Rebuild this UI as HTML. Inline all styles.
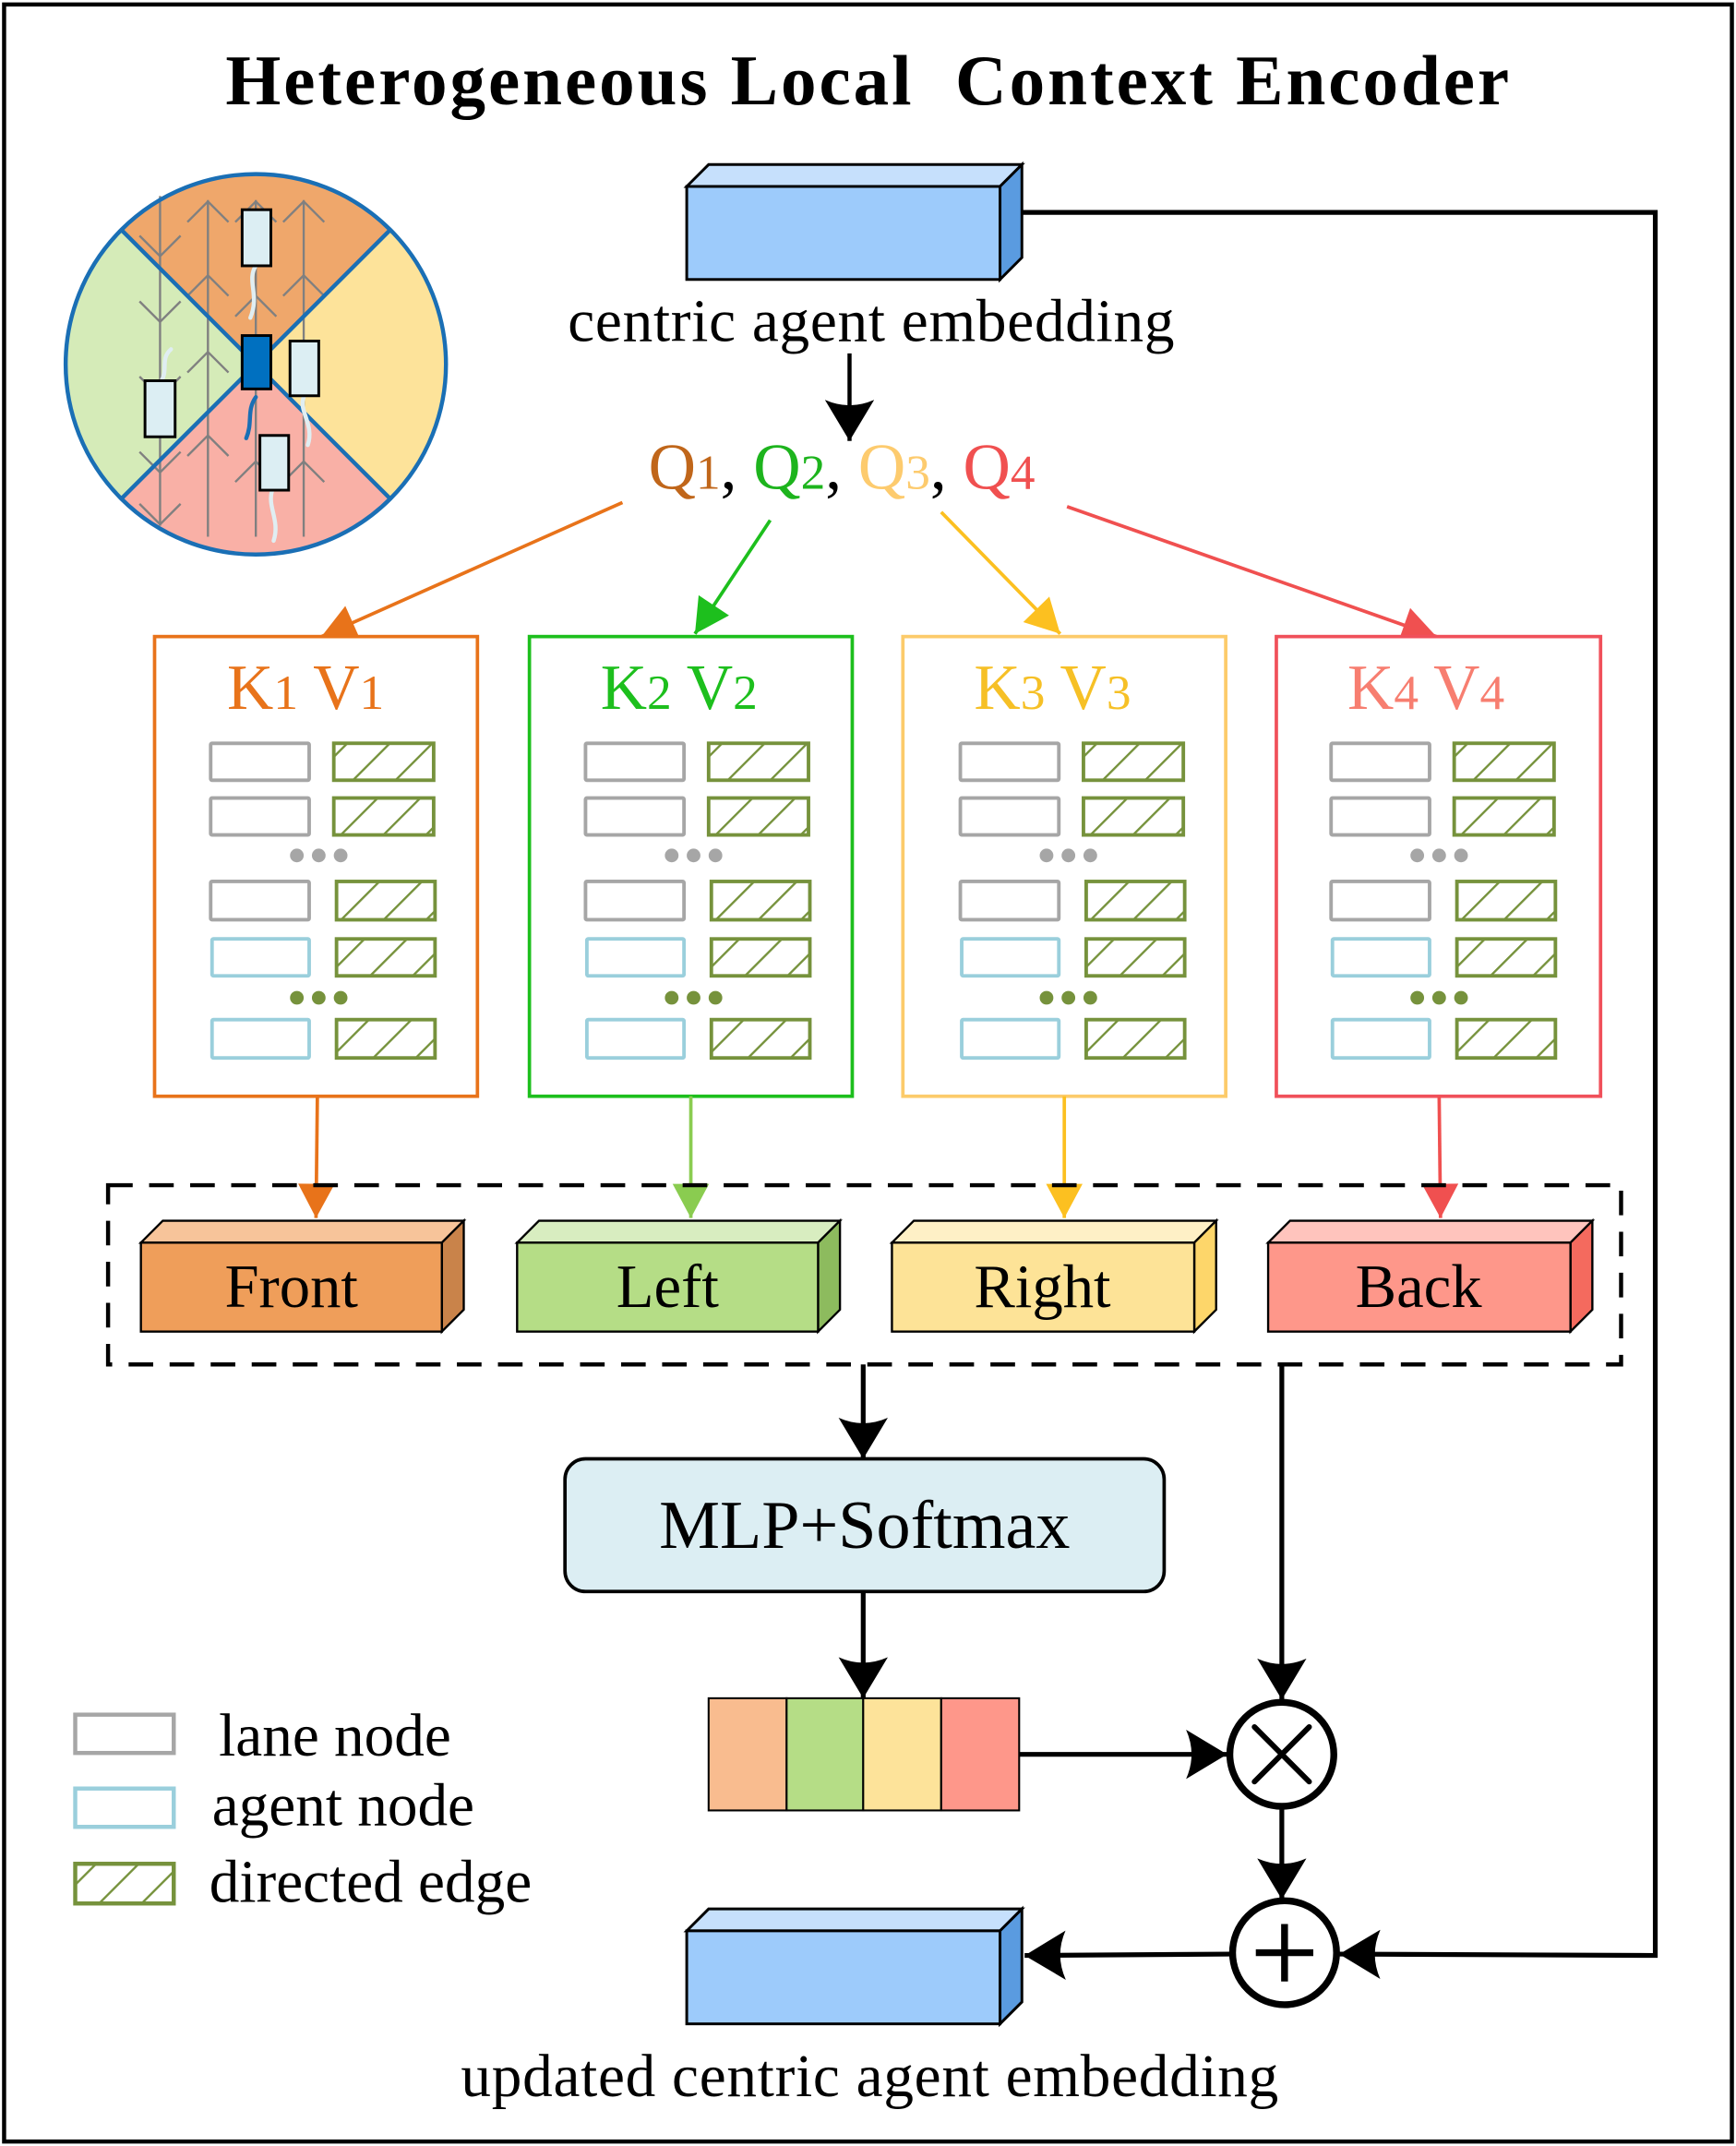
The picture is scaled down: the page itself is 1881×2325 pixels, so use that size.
<!DOCTYPE html>
<html><head><meta charset="utf-8"><style>
html,body{margin:0;padding:0;background:#fff}
svg{display:block}
text{font-family:"Liberation Serif",serif}
</style></head><body>
<svg width="1881" height="2325" viewBox="0 0 1269 1568" xmlns="http://www.w3.org/2000/svg">
<defs>
<pattern id="hatch" patternUnits="userSpaceOnUse" width="22" height="22" patternTransform="rotate(45)">
<rect width="22" height="22" fill="#fff"/><line x1="0" y1="0" x2="0" y2="22" stroke="#76923C" stroke-width="3.2"/>
</pattern>
<g id="rows">
<rect x="41" y="78" width="72" height="27" fill="none" stroke="#A6A6A6" stroke-width="2.6" rx="1"/>
<rect x="131" y="78" width="73" height="27" fill="url(#hatch)" stroke="#76923C" stroke-width="2.6"/>
<rect x="41" y="118" width="72" height="27" fill="none" stroke="#A6A6A6" stroke-width="2.6" rx="1"/>
<rect x="131" y="118" width="73" height="27" fill="url(#hatch)" stroke="#76923C" stroke-width="2.6"/>
<circle cx="104" cy="160" r="5" fill="#A6A6A6"/><circle cx="120" cy="160" r="5" fill="#A6A6A6"/><circle cx="136" cy="160" r="5" fill="#A6A6A6"/>
<rect x="41" y="179" width="72" height="28" fill="none" stroke="#A6A6A6" stroke-width="2.6" rx="1"/>
<rect x="133" y="179" width="72" height="28" fill="url(#hatch)" stroke="#76923C" stroke-width="2.6"/>
<rect x="42" y="221" width="71" height="27" fill="none" stroke="#9ACFDC" stroke-width="2.6" rx="1"/>
<rect x="133" y="221" width="72" height="27" fill="url(#hatch)" stroke="#76923C" stroke-width="2.6"/>
<circle cx="104" cy="264" r="5" fill="#76923C"/><circle cx="120" cy="264" r="5" fill="#76923C"/><circle cx="136" cy="264" r="5" fill="#76923C"/>
<rect x="42" y="280" width="71" height="28" fill="none" stroke="#9ACFDC" stroke-width="2.6" rx="1"/>
<rect x="133" y="280" width="72" height="28" fill="url(#hatch)" stroke="#76923C" stroke-width="2.6"/>
</g>
<marker id="ab" markerUnits="userSpaceOnUse" viewBox="0 0 30 36" refX="30" refY="18" markerWidth="30" markerHeight="36" orient="auto"><path d="M0,0 L30,18 L0,36 Q8,18 0,0Z" fill="#000"/></marker>
<marker id="ao" markerUnits="userSpaceOnUse" viewBox="0 0 30 36" refX="30" refY="18" markerWidth="26" markerHeight="30" orient="auto"><path d="M0,2 L30,18 L0,34 Z" fill="#E8731A"/></marker>
<marker id="ag" markerUnits="userSpaceOnUse" viewBox="0 0 30 36" refX="30" refY="18" markerWidth="26" markerHeight="30" orient="auto"><path d="M0,2 L30,18 L0,34 Z" fill="#1DBF1D"/></marker>
<marker id="ay" markerUnits="userSpaceOnUse" viewBox="0 0 30 36" refX="30" refY="18" markerWidth="26" markerHeight="30" orient="auto"><path d="M0,2 L30,18 L0,34 Z" fill="#FCC020"/></marker>
<marker id="ar" markerUnits="userSpaceOnUse" viewBox="0 0 30 36" refX="30" refY="18" markerWidth="26" markerHeight="30" orient="auto"><path d="M0,2 L30,18 L0,34 Z" fill="#F05050"/></marker>
<marker id="alg" markerUnits="userSpaceOnUse" viewBox="0 0 30 36" refX="30" refY="18" markerWidth="26" markerHeight="30" orient="auto"><path d="M0,2 L30,18 L0,34 Z" fill="#8ACC50"/></marker>
</defs>

<rect x="3" y="3" width="1263" height="1562" fill="#fff" stroke="#000" stroke-width="3"/>
<text x="635" y="76" font-size="52" font-weight="bold" text-anchor="middle" letter-spacing="2">Heterogeneous Local&#160;&#160;Context Encoder</text>

<!-- circle -->
<g>
<circle cx="187" cy="266" r="139" fill="#FDE39A"/>
<path d="M187,266 L89,168 A139,139 0 0 1 285,168 Z" fill="#EFA76B"/>
<path d="M187,266 L89,168 A139,139 0 0 0 89,364 Z" fill="#D5EBB8"/>
<path d="M187,266 L89,364 A139,139 0 0 0 285,364 Z" fill="#F9B0A6"/>
<g stroke="#808080" stroke-width="1.6" fill="none">
<line x1="117" y1="143" x2="117" y2="384"/><line x1="152" y1="146" x2="152" y2="392"/><line x1="187" y1="146" x2="187" y2="392"/><line x1="222" y1="146" x2="222" y2="392"/>
<path d="M102,172 L117,187 L132,172 M102,220 L117,235 L132,220 M102,275 L117,290 L132,275 M102,330 L117,345 L132,330 M102,368 L117,383 L132,368"/>
<path d="M137,162 L152,147 L167,162 M137,216 L152,201 L167,216 M137,272 L152,257 L167,272 M137,333 L152,318 L167,333"/>
<path d="M172,162 L187,147 L202,162 M172,231 L187,216 L202,231 M172,352 L187,337 L202,352"/>
<path d="M207,162 L222,147 L237,162 M207,216 L222,201 L237,216 M207,352 L222,337 L237,352"/>
</g>
<g stroke="#1A6FB5" stroke-width="3"><line x1="89" y1="168" x2="285" y2="364"/><line x1="285" y1="168" x2="89" y2="364"/></g>
<circle cx="187" cy="266" r="139" fill="none" stroke="#1A6FB5" stroke-width="3"/>
<g fill="none" stroke="#E0EEF2" stroke-width="3" stroke-linecap="round">
<path d="M187,290 C180,300 185,308 180,320" stroke="#1A6FB5"/>
<path d="M187,194 C180,205 190,215 183,232"/>
<path d="M125,255 C117,262 123,270 118,278"/>
<path d="M222,290 C218,300 230,310 225,325"/>
<path d="M199,358 C195,370 205,380 200,395"/>
</g>
<g stroke="#000" stroke-width="2" fill="#DCEEF3">
<rect x="177" y="153" width="21" height="41"/><rect x="212" y="249" width="21" height="40"/><rect x="106" y="278" width="22" height="41"/><rect x="190" y="318" width="21" height="40"/>
<rect x="177" y="245" width="21" height="39" fill="#0070C0"/>
</g>
</g>

<!-- top 3d box -->
<g stroke="#000" stroke-width="2">
<polygon points="502,136 518,120 747,120 731,136" fill="#C6E0FC"/>
<polygon points="731,136 747,120 747,188 731,204" fill="#5A9BE0"/>
<rect x="502" y="136" width="229" height="68" fill="#9DCBFB"/>
</g>
<text x="637" y="249" font-size="44" text-anchor="middle" letter-spacing="0.5">centric agent embedding</text>
<line x1="621" y1="258" x2="621" y2="322" stroke="#000" stroke-width="3" marker-end="url(#ab)"/>

<text x="474" y="357" font-size="48"><tspan fill="#C0661A">Q<tspan font-size="36">1</tspan></tspan><tspan fill="#000">, </tspan><tspan fill="#1DB41D">Q<tspan font-size="36">2</tspan></tspan><tspan fill="#000">, </tspan><tspan fill="#FDCB6E">Q<tspan font-size="36">3</tspan></tspan><tspan fill="#000">, </tspan><tspan fill="#F05050">Q<tspan font-size="36">4</tspan></tspan></text>

<line x1="455" y1="367" x2="235" y2="465" stroke="#E8731A" stroke-width="2.5" marker-end="url(#ao)"/>
<line x1="563" y1="380" x2="508" y2="463" stroke="#1DBF1D" stroke-width="2.5" marker-end="url(#ag)"/>
<line x1="688" y1="374" x2="775" y2="463" stroke="#FCC020" stroke-width="2.5" marker-end="url(#ay)"/>
<line x1="780" y1="370" x2="1050" y2="465" stroke="#F05050" stroke-width="2.5" marker-end="url(#ar)"/>

<!-- KV boxes -->
<rect x="113" y="465" width="236" height="336" fill="#fff" stroke="#E8731A" stroke-width="2.5"/>
<rect x="387" y="465" width="236" height="336" fill="#fff" stroke="#1DBF1D" stroke-width="2.5"/>
<rect x="660" y="465" width="236" height="336" fill="#fff" stroke="#FCCB6A" stroke-width="2.5"/>
<rect x="933" y="465" width="237" height="336" fill="#fff" stroke="#F0505A" stroke-width="2.5"/>
<use href="#rows" transform="translate(113,465)"/>
<use href="#rows" transform="translate(387,465)"/>
<use href="#rows" transform="translate(661,465)"/>
<use href="#rows" transform="translate(932,465)"/>
<text x="166" y="518" font-size="47" fill="#E8731A">K<tspan font-size="36">1</tspan> V<tspan font-size="36">1</tspan></text>
<text x="439" y="518" font-size="47" fill="#1DBF1D">K<tspan font-size="36">2</tspan> V<tspan font-size="36">2</tspan></text>
<text x="712" y="518" font-size="47" fill="#F6C026">K<tspan font-size="36">3</tspan> V<tspan font-size="36">3</tspan></text>
<text x="985" y="518" font-size="47" fill="#F77E70">K<tspan font-size="36">4</tspan> V<tspan font-size="36">4</tspan></text>

<line x1="232" y1="801" x2="231" y2="890" stroke="#E8731A" stroke-width="2.5" marker-end="url(#ao)"/>
<line x1="505" y1="801" x2="505" y2="890" stroke="#8ACC50" stroke-width="2.5" marker-end="url(#alg)"/>
<line x1="778" y1="801" x2="778" y2="890" stroke="#FCC020" stroke-width="2.5" marker-end="url(#ay)"/>
<line x1="1052" y1="801" x2="1053" y2="890" stroke="#F05050" stroke-width="2.5" marker-end="url(#ar)"/>

<rect x="79" y="866" width="1106" height="131" fill="none" stroke="#000" stroke-width="3" stroke-dasharray="18,12"/>

<g stroke="#000" stroke-width="1.6">
<polygon points="103,908 119,892 339,892 323,908" fill="#F7C49A"/><polygon points="323,908 339,892 339,957 323,973" fill="#C9834A"/><rect x="103" y="908" width="220" height="65" fill="#EF9E5A"/>
<polygon points="378,908 394,892 614,892 598,908" fill="#D8EDC0"/><polygon points="598,908 614,892 614,957 598,973" fill="#8DBB5E"/><rect x="378" y="908" width="220" height="65" fill="#B5DD86"/>
<polygon points="652,908 668,892 889,892 873,908" fill="#FEF0C6"/><polygon points="873,908 889,892 889,957 873,973" fill="#FDD66A"/><rect x="652" y="908" width="221" height="65" fill="#FDE397"/>
<polygon points="927,908 943,892 1164,892 1148,908" fill="#FFC4BD"/><polygon points="1148,908 1164,892 1164,957 1148,973" fill="#F46A5E"/><rect x="927" y="908" width="221" height="65" fill="#FE978A"/>
</g>
<text x="213" y="955" font-size="45" text-anchor="middle">Front</text>
<text x="488" y="955" font-size="45" text-anchor="middle">Left</text>
<text x="762" y="955" font-size="45" text-anchor="middle">Right</text>
<text x="1037" y="955" font-size="45" text-anchor="middle">Back</text>

<line x1="631" y1="997" x2="631" y2="1066" stroke="#000" stroke-width="3.5" marker-end="url(#ab)"/>
<rect x="413" y="1066" width="438" height="97" rx="15" fill="#DCEEF3" stroke="#000" stroke-width="2.5"/>
<text x="632" y="1131" font-size="50" text-anchor="middle">MLP+Softmax</text>
<line x1="631" y1="1163" x2="631" y2="1241" stroke="#000" stroke-width="3.5" marker-end="url(#ab)"/>

<g stroke="#000" stroke-width="1.4">
<rect x="518" y="1241" width="57" height="82" fill="#F9BC8F"/><rect x="575" y="1241" width="56" height="82" fill="#B5DD86"/><rect x="631" y="1241" width="57" height="82" fill="#FDE39A"/><rect x="688" y="1241" width="57" height="82" fill="#FE978A"/>
</g>
<line x1="745" y1="1282" x2="897" y2="1282" stroke="#000" stroke-width="3.5" marker-end="url(#ab)"/>
<line x1="937" y1="997" x2="937" y2="1242" stroke="#000" stroke-width="3.5" marker-end="url(#ab)"/>
<circle cx="937" cy="1282" r="38" fill="#fff" stroke="#000" stroke-width="5"/>
<path d="M917,1262 L957,1302 M957,1262 L917,1302" stroke="#000" stroke-width="4" stroke-linecap="round"/>
<line x1="937" y1="1321" x2="937" y2="1388" stroke="#000" stroke-width="3.5" marker-end="url(#ab)"/>
<circle cx="939" cy="1427" r="38" fill="#fff" stroke="#000" stroke-width="5"/>
<path d="M939,1406 L939,1448 M918,1427 L960,1427" stroke="#000" stroke-width="5"/>
<polyline points="747,155 1210,155 1210,1429 979,1428" fill="none" stroke="#000" stroke-width="3.5" marker-end="url(#ab)"/>
<line x1="900" y1="1428" x2="749" y2="1429" stroke="#000" stroke-width="3.5" marker-end="url(#ab)"/>

<g stroke="#000" stroke-width="2">
<polygon points="502,1411 518,1395 747,1395 731,1411" fill="#C6E0FC"/>
<polygon points="731,1411 747,1395 747,1463 731,1479" fill="#5A9BE0"/>
<rect x="502" y="1411" width="229" height="68" fill="#9DCBFB"/>
</g>
<text x="636" y="1532" font-size="44" text-anchor="middle" letter-spacing="0.5">updated centric agent embedding</text>

<rect x="55" y="1253" width="72" height="28" fill="none" stroke="#A6A6A6" stroke-width="3"/>
<rect x="55" y="1307" width="72" height="28" fill="none" stroke="#9ACFDC" stroke-width="3"/>
<rect x="55" y="1362" width="72" height="29" fill="url(#hatch)" stroke="#76923C" stroke-width="3"/>
<text x="160" y="1283" font-size="44">lane node</text>
<text x="155" y="1334" font-size="44">agent node</text>
<text x="153" y="1390" font-size="44">directed edge</text>
</svg>
</body></html>
